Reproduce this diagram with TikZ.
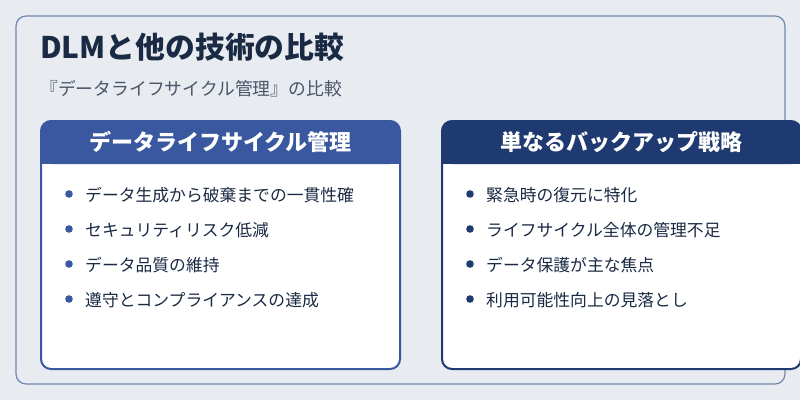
\documentclass[tikz,border=0pt]{standalone}
\usepackage{fontspec}
\setmainfont{Noto Sans CJK JP}
\definecolor{bgc}{HTML}{E8ECF1}
\definecolor{frame}{HTML}{6F86B0}
\definecolor{navy}{HTML}{1B2A44}
\definecolor{lblue}{HTML}{3A58A0}
\definecolor{dblue}{HTML}{1E3A70}
\definecolor{sub}{HTML}{4A5568}
\tikzset{x=1pt,y=-1pt,
 itemtext/.style={anchor=west,font=\fontsize{16.8}{20}\selectfont,text=navy,inner sep=0},
 hdr/.style={font=\fontsize{22}{26}\selectfont\bfseries,text=white}}
\begin{document}
\begin{tikzpicture}
\fill[bgc] (0,0) rectangle (800,400);
\useasboundingbox (0,0) rectangle (800,400);
\draw[frame,line width=1.2pt,rounded corners=10pt] (16,16) rectangle (785,384);
\node[anchor=west,inner sep=0,font=\fontsize{29.8}{34}\selectfont\bfseries,text=navy] (title) at (40,47) {DLMと他の技術の比較};
\node[anchor=west,inner sep=0,font=\fontsize{17.8}{21}\selectfont,text=sub] (subt) at (40,89) {『データライフサイクル管理』の比較};
% left card
\fill[white,rounded corners=10pt] (41,121) rectangle (400,369);
\fill[lblue,rounded corners=10pt] (41,121) rectangle (400,164);
\fill[lblue] (41,150) rectangle (400,164);
\draw[lblue,line width=2pt,rounded corners=10pt] (41,121) rectangle (400,369);
\node[hdr] (lh) at (220.5,142) {データライフサイクル管理};
% right card
\fill[white,rounded corners=10pt] (442,121) rectangle (801,369);
\fill[dblue,rounded corners=10pt] (442,121) rectangle (801,164);
\fill[dblue] (442,150) rectangle (801,164);
\draw[dblue,line width=2pt,rounded corners=10pt] (442,121) rectangle (801,369);
\node[hdr] (rh) at (621,142) {単なるバックアップ戦略};
\foreach \t [count=\i] in {データ生成から破棄までの一貫性確,セキュリティリスク低減,データ品質の維持,遵守とコンプライアンスの達成}{
 \fill[lblue] (69,{194+(\i-1)*35}) circle (3.8);
 \node[itemtext] (l\i) at (85,{195+(\i-1)*35}) {\t};}
\foreach \t [count=\i] in {緊急時の復元に特化,ライフサイクル全体の管理不足,データ保護が主な焦点,利用可能性向上の見落とし}{
 \fill[dblue] (470,{194+(\i-1)*35}) circle (3.8);
 \node[itemtext] (r\i) at (486,{195+(\i-1)*35}) {\t};}
\end{tikzpicture}
\end{document}
